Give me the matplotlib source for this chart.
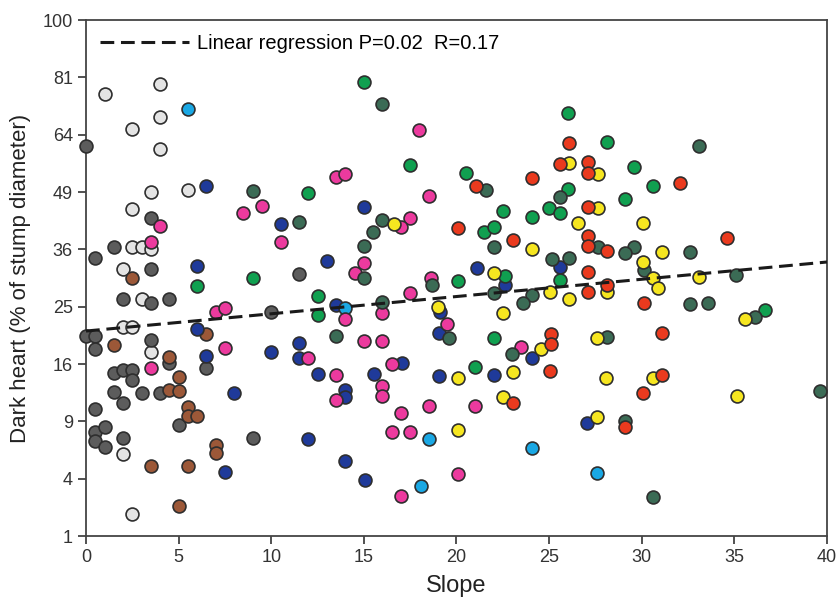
import numpy as np
import matplotlib
matplotlib.use("Agg")
import matplotlib.pyplot as plt

plt.rcParams['font.family'] = ['Liberation Sans', 'DejaVu Sans']

# point groups (slope, dark heart %)
lgrey_x = [1, 4, 4, 2.5, 4, 3.5, 5.5, 2.5, 2.5, 3, 3.5, 2, 3, 2, 2.5, 3.5, 2, 2.5]
lgrey_y = [76, 79, 69, 65.5, 60, 49, 49.5, 45, 36.5, 36.5, 36, 32, 26.3, 21.6, 21.6, 17.7, 5.9, 1.9]

dgrey_x = [0, 3.5, 0.5, 1.5, 3.5, 2, 3.5, 4.5, 10, 0, 0.5, 0.5, 3.5, 4.5, 6.5, 1.5,
           2, 2.5, 2.5, 1.5, 3, 4, 2, 0.5, 5, 0.5, 1, 0.5, 1, 2, 9, 11.5]
dgrey_y = [60.8, 42.9, 34.2, 36.5, 32, 26.3, 25.6, 26.3, 24, 20.2, 20.2, 18.1, 19.5, 16.2, 15.5, 14.8,
           15.2, 15.2, 13.8, 12.3, 12.2, 12.2, 11, 10.3, 8.6, 7.9, 8.4, 7.1, 6.5, 7.3, 7.3, 31]

brown_x = [2.5, 1.5, 6.5, 4.5, 5, 4.5, 5, 5.5, 5.5, 6, 7, 7, 3.5, 5.5, 5]
brown_y = [30.3, 18.8, 20.4, 17, 14.3, 12.6, 12.5, 10.6, 9.6, 9.6, 6.7, 6.0, 4.9, 4.9, 2.3]

blue_x = [6.5, 10.5, 6, 13, 6, 6.5, 10, 11.5, 11.5, 12.5, 13.5, 8, 12, 7.5, 15,
          21.1, 22.6, 19.1, 19.05, 17.05, 15.55, 19.05, 22, 24.1, 14, 14, 14, 15.05, 27.05, 25.6]
blue_y = [50.4, 41.5, 32.6, 33.6, 21.3, 17.1, 17.7, 19.1, 16.8, 14.7, 25.3, 12.2, 7.2, 4.5, 45.4,
          32.2, 28.9, 24, 20.6, 16.2, 14.6, 14.4, 14.5, 16.8, 12.6, 11.7, 5.3, 3.9, 8.8, 32.3]

cyan_x = [5.5, 14, 18.5, 18.1, 24.1, 27.6]
cyan_y = [71.4, 24.8, 7.2, 3.5, 6.4, 4.4]

pink_x = [13.5, 14, 4, 9.5, 8.5, 10.5, 3.5, 7, 7.5, 7.5, 12, 13.5, 3.5, 13.5, 18, 18.5,
          17.5, 17, 15, 14.5, 18.6, 17.5, 16, 14, 19.5, 15, 16, 16.5, 16, 16, 17, 18.5,
          21, 16.5, 17.5, 17, 20.1, 23.5]
pink_y = [52.8, 53.5, 41.1, 45.7, 44, 37.6, 37.6, 24.1, 24.8, 18.3, 16.8, 14.5, 15.5, 11.4, 65.3, 48,
          42.9, 40.8, 33.2, 31.2, 30.3, 27.4, 23.9, 22.9, 22.1, 19.4, 19.3, 16, 13.1, 11.9, 9.9, 10.7,
          10.7, 7.9, 7.9, 2.9, 4.3, 18.5]

green_x = [12, 9, 6, 12.5, 12.5, 15, 17.5, 20.5, 26, 26, 25, 25.6, 22.5, 24.1, 21.5,
           22, 28.1, 29.6, 30.6, 29.1, 25.6, 22.6, 20.1, 22, 21, 36.65]
green_y = [48.7, 30.3, 28.7, 26.9, 23.5, 79.5, 55.8, 53.7, 70.2, 49.7, 45.2, 44, 44.5, 43, 39.7,
           40.8, 62, 55.3, 50.4, 47.3, 29.9, 30.6, 29.7, 19.8, 15.6, 24.4]

teal_x = [9, 11.5, 13.5, 16, 21.6, 25.6, 16, 15.5, 15, 22, 33.1, 27.65, 29.6, 29.1, 30.1,
          32.6, 35.1, 32.6, 33.6, 36.1, 25.15, 26.1, 22, 24.1, 23.6, 18.7, 15, 16, 19.6,
          23, 28.1, 29.1, 30.6, 39.6]
teal_y = [49.3, 42, 20.2, 72.8, 49.5, 47.7, 42.4, 39.7, 36.7, 36.5, 60.8, 36.5, 36.5, 35.3, 31.8,
          35.4, 30.8, 25.5, 25.6, 23.2, 34, 34.2, 27.4, 27, 25.6, 28.9, 30.3, 25.8, 19.8,
          17.4, 20, 9, 2.8, 12.5]

yellow_x = [16.6, 26.05, 27.65, 27.65, 26.55, 30.05, 24.1, 22, 19, 22.5, 25.05, 26.1, 28.1,
            30.05, 30.6, 30.9, 31.1, 33.1, 35.6, 27.6, 24.55, 20.1, 23.05, 22.5, 20.1, 28.05,
            30.6, 35.15, 27.6]
yellow_y = [41.5, 56.4, 53.5, 45.2, 41.7, 41.7, 36, 31.3, 25, 23.9, 27.7, 26.4, 27.7,
            33.4, 30.3, 28.4, 35.4, 30.5, 22.9, 19.8, 18.1, 14.1, 14.9, 11.7, 8.1, 14.1,
            14.1, 11.8, 9.5]

red_x = [21.05, 24.1, 20.1, 23.05, 26.07, 25.6, 27.1, 27.1, 27.1, 27.1, 27.1, 28.1, 32.05,
         34.6, 27.1, 27.1, 28.1, 30.1, 25.1, 25.1, 25.05, 23.05, 31.1, 31.1, 30.05, 29.1]
red_y = [50.4, 52.4, 40.6, 38, 61.7, 56.1, 56.6, 53.7, 45.4, 38.8, 36.7, 35.6, 51.3,
         38.5, 31.4, 27.7, 29, 25.6, 20.4, 18.9, 15.1, 11, 20.6, 14.5, 12.2, 8.4]

# regression on sqrt(y)
reg_a = 4.575
reg_b = 0.0301

yticks = [1, 4, 9, 16, 25, 36, 49, 64, 81, 100]
xticks = [0, 5, 10, 15, 20, 25, 30, 35, 40]

fig = plt.figure(figsize=(8.4, 6.1), dpi=100)
ax = fig.add_axes([0.1024, 0.1213, 0.8821, 0.8459])
ax.set_yscale('function', functions=(np.sqrt, np.square))

groups = [
    (lgrey_x, lgrey_y, '#e4e4e4'),
    (dgrey_x, dgrey_y, '#5c5c5c'),
    (brown_x, brown_y, '#9c5838'),
    (blue_x, blue_y, '#1f3a9a'),
    (cyan_x, cyan_y, '#1aa8e4'),
    (pink_x, pink_y, '#ec3a9e'),
    (green_x, green_y, '#10a050'),
    (teal_x, teal_y, '#3b6b55'),
    (yellow_x, yellow_y, '#f6e620'),
    (red_x, red_y, '#ea3a1e'),
]
for gx, gy, col in groups:
    ax.scatter(gx, gy, s=86, c=col, edgecolors='#2e2e2e', linewidths=1.2,
               zorder=3, clip_on=False)

xs = np.linspace(0, 40, 200)
ax.plot(xs, (reg_a + reg_b * xs) ** 2, color='#1a1a1a', lw=2.2,
        dashes=(4.5, 2.2), zorder=4, label='Linear regression P=0.02  R=0.17')

ax.set_xlim(0, 40)
ax.set_ylim(1, 100)
ax.set_xticks(xticks)
ax.set_yticks(yticks)
ax.set_yticklabels([str(t) for t in yticks])
ax.minorticks_off()
ax.tick_params(direction='out', length=6, width=1.2, labelsize=13,
               colors='#333333', labelcolor='#333333')
for sp in ax.spines.values():
    sp.set_linewidth(1.3)
    sp.set_color('#444444')

ax.set_xlabel('Slope', fontsize=17, color='#222222', labelpad=6)
ax.set_ylabel('Dark heart (% of stump diameter)', fontsize=16, color='#222222', labelpad=8)

ax.legend(loc='upper left', frameon=False, fontsize=14.5, handlelength=4.4,
          handletextpad=0.4, borderaxespad=0.3)

fig.savefig('out.png', dpi=100)
